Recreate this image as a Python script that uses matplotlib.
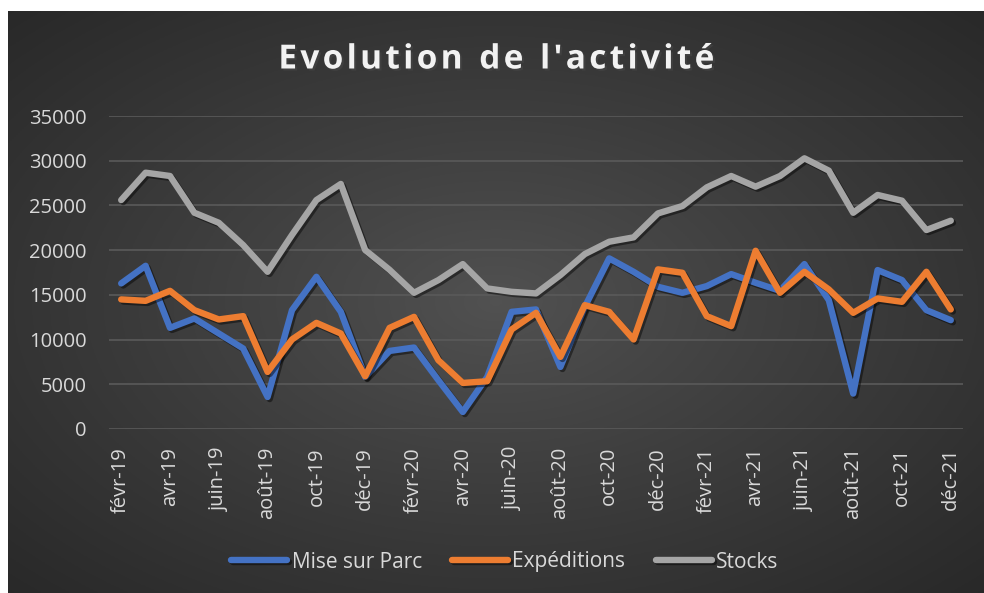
import numpy as np
import matplotlib
matplotlib.use("Agg")
import matplotlib.pyplot as plt
import matplotlib.patheffects as pe

plt.rcParams['font.family'] = ['Open Sans', 'DejaVu Sans']

# months feb 2019 -> dec 2021
mois = ['janv', 'févr', 'mars', 'avr', 'mai', 'juin', 'juil', 'août', 'sept', 'oct', 'nov', 'déc']
labels = []
for an in (19, 20, 21):
    for k, m in enumerate(mois):
        if an == 19 and k == 0:
            continue
        labels.append(f"{m}-{an}")

mise_sur_parc = [16280, 18250, 11310, 12360, 10680, 9000, 3580, 13290, 17020, 13100, 5820,
                 8730, 9110, 5450, 1900, 5820, 13100, 13370, 6940, 13660, 19080, 17580, 15900,
                 15230, 15980, 17320, 16350, 15450, 18440, 14410, 3960, 17770, 16650, 13290, 12170]
expeditions = [14490, 14330, 15450, 13290, 12250, 12620, 6380, 10010, 11870, 10680, 5900,
               11310, 12540, 7690, 5150, 5340, 11130, 12990, 8060, 13850, 13100, 10010, 17850,
               17470, 12620, 11500, 19930, 15230, 17580, 15610, 12990, 14600, 14220, 17580, 13370]
stocks = [25600, 28660, 28290, 24180, 23060, 20570, 17580, 21700, 25600, 27400, 20010,
          17800, 15230, 16650, 18440, 15720, 15340, 15160, 17210, 19560, 20940, 21430, 24110,
          24930, 27020, 28290, 27100, 28290, 30270, 28890, 24180, 26170, 25530, 22250, 23290]

W, H = 984, 593
fig = plt.figure(figsize=(W / 100, H / 100), dpi=100)
fig.patch.set_facecolor('white')

# dark radial background
bg = fig.add_axes([8 / W, 0, 1 - 8 / W, 1 - 11 / H])
bg.set_axis_off()
yy, xx = np.mgrid[-1:1:300j, -1:1:500j]
r = np.sqrt((xx / 1.0) ** 2 + (yy / 1.0) ** 2) / np.sqrt(2)
shade = 0.32 - 0.16 * np.clip(r, 0, 1) ** 0.9
img = np.dstack([shade, shade, shade])
bg.imshow(img, aspect='auto', extent=[0, 1, 0, 1])

ax = fig.add_axes([109 / W, 1 - 429 / H, (963 - 109) / W, (429 - 116) / H])
ax.set_facecolor('none')
x = np.arange(len(labels))

shadow = [pe.SimpleLineShadow(offset=(1.5, -1.5), shadow_color='black', alpha=0.45), pe.Normal()]
series = [(mise_sur_parc, '#4472C4', 'Mise sur Parc'),
          (expeditions, '#ED7D31', 'Expéditions'),
          (stocks, '#A5A5A5', 'Stocks')]
for vals, col, name in series:
    ax.plot(x, vals, color=col, lw=4.6, label=name, solid_joinstyle='round',
            solid_capstyle='round', path_effects=shadow)

ax.set_xlim(-0.5, len(labels) - 0.5)
ax.set_ylim(0, 35000)
ax.set_yticks(np.arange(0, 35001, 5000))
ax.set_xticks(x[::2])
ax.set_xticklabels(labels[::2], rotation=90)
ax.grid(axis='y', color='#5a5a5a', lw=1.2)
ax.set_axisbelow(True)
for s in ax.spines.values():
    s.set_visible(False)
ax.tick_params(length=0, colors='#d9d9d9', labelsize=14.5)
ax.tick_params(axis='y', pad=16)
ax.tick_params(axis='x', pad=13)

fig.text(0.505, 1 - 60 / H, "E v o l u t i o n   d e   l ' a c t i v i t é".replace('   ', '\u2002').replace(' ', '\u200a'),
         ha='center', va='center', color='#f2f2f2', fontsize=24, fontweight='bold',
         path_effects=[pe.withSimplePatchShadow(offset=(1.5, -1.5), alpha=0.5)])

leg = fig.legend(loc='center', bbox_to_anchor=(0.513, 1 - 562 / H), ncol=3, frameon=False,
                 fontsize=15, handlelength=2.7, handletextpad=0.2, columnspacing=1.45)
for t in leg.get_texts():
    t.set_color('#d9d9d9')

fig.savefig('out.png', dpi=100, facecolor=fig.get_facecolor())
